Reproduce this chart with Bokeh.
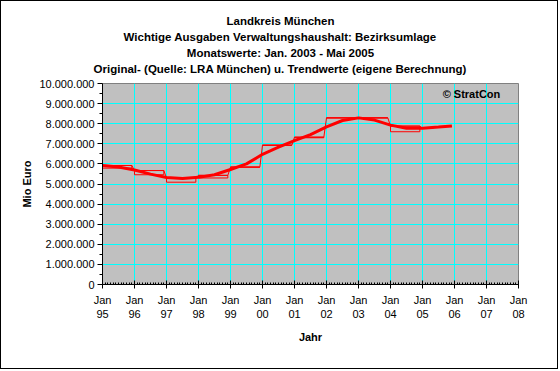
from bokeh.plotting import figure
from bokeh.models import FixedTicker, Label, Title
from bokeh.embed import file_html
from bokeh.resources import INLINE

# ---- data (values in Euro) ----
years = [1995, 1996, 1997, 1998, 1999, 2000, 2001, 2002, 2003, 2004, 2005]
# last month covered by monthly original values in each year (12 = full year)
months_covered = [12, 12, 12, 12, 12, 12, 12, 12, 12, 12, 5]
orig_hi = [5.92e6, 5.67e6, 5.30e6, 5.43e6, 5.84e6, 6.93e6, 7.33e6, 8.29e6, 8.29e6, 7.88e6, 7.77e6]
orig_lo = [5.79e6, 5.46e6, 5.09e6, 5.30e6, 5.84e6, 6.93e6, 7.30e6, 8.29e6, 8.29e6, 7.60e6, 7.77e6]

trend_t = [1995.0, 1995.5, 1996.0, 1996.5, 1997.0, 1997.5, 1998.0, 1998.5, 1999.0, 1999.5,
           2000.0, 2000.5, 2001.0, 2001.5, 2002.0, 2002.5, 2003.0, 2003.5, 2004.0, 2004.5,
           2005.0, 2005.5, 2005.92]
trend_v = [5.92e6, 5.85e6, 5.70e6, 5.49e6, 5.32e6, 5.27e6, 5.33e6, 5.46e6, 5.72e6, 6.00e6,
           6.48e6, 6.83e6, 7.16e6, 7.46e6, 7.84e6, 8.16e6, 8.29e6, 8.18e6, 7.93e6, 7.77e6,
           7.77e6, 7.83e6, 7.89e6]

x_tick_years = list(range(1995, 2009))
x_tick_labels = ["Jan\n%02d" % (y % 100) for y in x_tick_years]
y_ticks = [i * 1_000_000 for i in range(0, 11)]
y_tick_labels = ["{:,}".format(v).replace(",", ".") for v in y_ticks]

title_lines = [
    "Landkreis München",
    "Wichtige Ausgaben Verwaltungshaushalt: Bezirksumlage",
    "Monatswerte: Jan. 2003 - Mai 2005",
    "Original- (Quelle: LRA München) u. Trendwerte (eigene Berechnung)",
]

FONT = "Liberation Sans"
W, H = 558, 369          # canvas size; a 1px CSS border brings the whole to 560 x 371
FRAME_LEFT, FRAME_RIGHT = 101, 41
TITLE_PX = 11.5

# Arial/Liberation Sans Bold advance widths (per 1000 em) for centring the titles on the canvas
_BOLD = {" ": 278, ".": 278, ":": 333, "-": 333, "(": 333, ")": 333}
_BOLD.update({c: 556 for c in "0123456789"})
_BOLD.update(dict(zip("abcdefghijklmnopqrstuvwxyz",
                      [556, 611, 556, 611, 556, 333, 611, 611, 278, 278, 556, 278, 889,
                       611, 611, 611, 611, 389, 556, 333, 611, 556, 778, 556, 556, 500])))
_BOLD.update(dict(zip("ABCDEFGHIJKLMNOPQRSTUVWXYZ",
                      [722, 722, 722, 722, 667, 611, 778, 722, 278, 556, 722, 611, 833,
                       722, 778, 667, 778, 722, 667, 611, 722, 667, 944, 667, 667, 611])))
_BOLD["ü"] = 611


def text_width(s, px):
    return sum(_BOLD.get(c, 600) for c in s) * px / 1000.0


p = figure(width=W, height=H, output_backend="svg", toolbar_location=None,
           x_range=(1995, 2008), y_range=(0, 10_000_000),
           min_border_left=FRAME_LEFT, min_border_right=FRAME_RIGHT,
           min_border_top=82, min_border_bottom=86,
           background_fill_color="#C0C0C0", border_fill_color="white", title=None)
p.outline_line_color = "#808080"
p.outline_line_width = 1
p.styles = {"border": "1px solid black"}

# spacer between frame and the innermost title line
p.add_layout(Title(text=" ", text_font_size="1px", standoff=5), "above")
# titles (innermost first), left-aligned with offset so they are centred on the canvas
for i, line in enumerate(reversed(title_lines)):
    off = W / 2 - text_width(line, TITLE_PX) / 2 - FRAME_LEFT
    p.add_layout(Title(text=line, align="left", offset=off,
                       text_font=FONT, text_font_size="%gpx" % TITLE_PX, text_font_style="bold",
                       text_color="black", standoff=2), "above")

# grids
p.xgrid.ticker = FixedTicker(ticks=x_tick_years)
p.ygrid.ticker = FixedTicker(ticks=y_ticks)
for g in (p.xgrid, p.ygrid):
    g.grid_line_color = "#00FFFF"
    g.grid_line_width = 1

# x axis
monthly = [y + m / 12 for y in range(1995, 2008) for m in range(1, 12)]
p.xaxis.ticker = FixedTicker(ticks=x_tick_years, minor_ticks=monthly)
p.xaxis.major_label_overrides = {y: lab for y, lab in zip(x_tick_years, x_tick_labels)}
p.xaxis.axis_label = "Jahr"
p.xaxis.major_tick_in = 4
p.xaxis.major_tick_out = 4
p.xaxis.minor_tick_in = 2
p.xaxis.minor_tick_out = 0
p.xaxis.major_label_standoff = 5
p.xaxis.axis_label_standoff = 8

# y axis
p.yaxis.ticker = FixedTicker(ticks=y_ticks, minor_ticks=[v + 500_000 for v in y_ticks[:-1]])
p.yaxis.major_label_overrides = {v: lab for v, lab in zip(y_ticks, y_tick_labels)}
p.yaxis.axis_label = "Mio Euro"
p.yaxis.major_tick_in = 0
p.yaxis.major_tick_out = 5
p.yaxis.minor_tick_in = 0
p.yaxis.minor_tick_out = 3
p.yaxis.major_label_standoff = 3
p.yaxis.axis_label_standoff = 3

for ax in (p.xaxis, p.yaxis):
    ax.axis_line_color = "black"
    ax.major_tick_line_color = "black"
    ax.minor_tick_line_color = "black"
    ax.major_label_text_font = FONT
    ax.major_label_text_font_size = "11px"
    ax.major_label_text_color = "black"
    ax.axis_label_text_font = FONT
    ax.axis_label_text_font_size = "11px"
    ax.axis_label_text_font_style = "bold"
    ax.axis_label_text_color = "black"

# original values: yearly boxes + connecting step line
lefts = years
rights = [y + (m - 1) / 12 if m < 12 else y + 11 / 12 for y, m in zip(years, months_covered)]
p.quad(left=lefts, right=rights, top=orig_hi, bottom=orig_lo,
       fill_alpha=0, line_color="#FF0000", line_width=1)
step_x, step_y = [], []
for l, r, v in zip(lefts, rights, orig_hi):
    step_x += [l, r]
    step_y += [v, v]
p.line(step_x, step_y, line_color="#FF0000", line_width=1)

# trend line
p.line(trend_t, trend_v, line_color="#FF0000", line_width=3)

p.add_layout(Label(x=2005.63, y=9_500_000, text="© StratCon", text_font=FONT,
                   text_font_size="11px", text_font_style="bold", text_color="black",
                   text_baseline="middle", text_align="left"))

open("out.html", "w").write(file_html(p, INLINE))
